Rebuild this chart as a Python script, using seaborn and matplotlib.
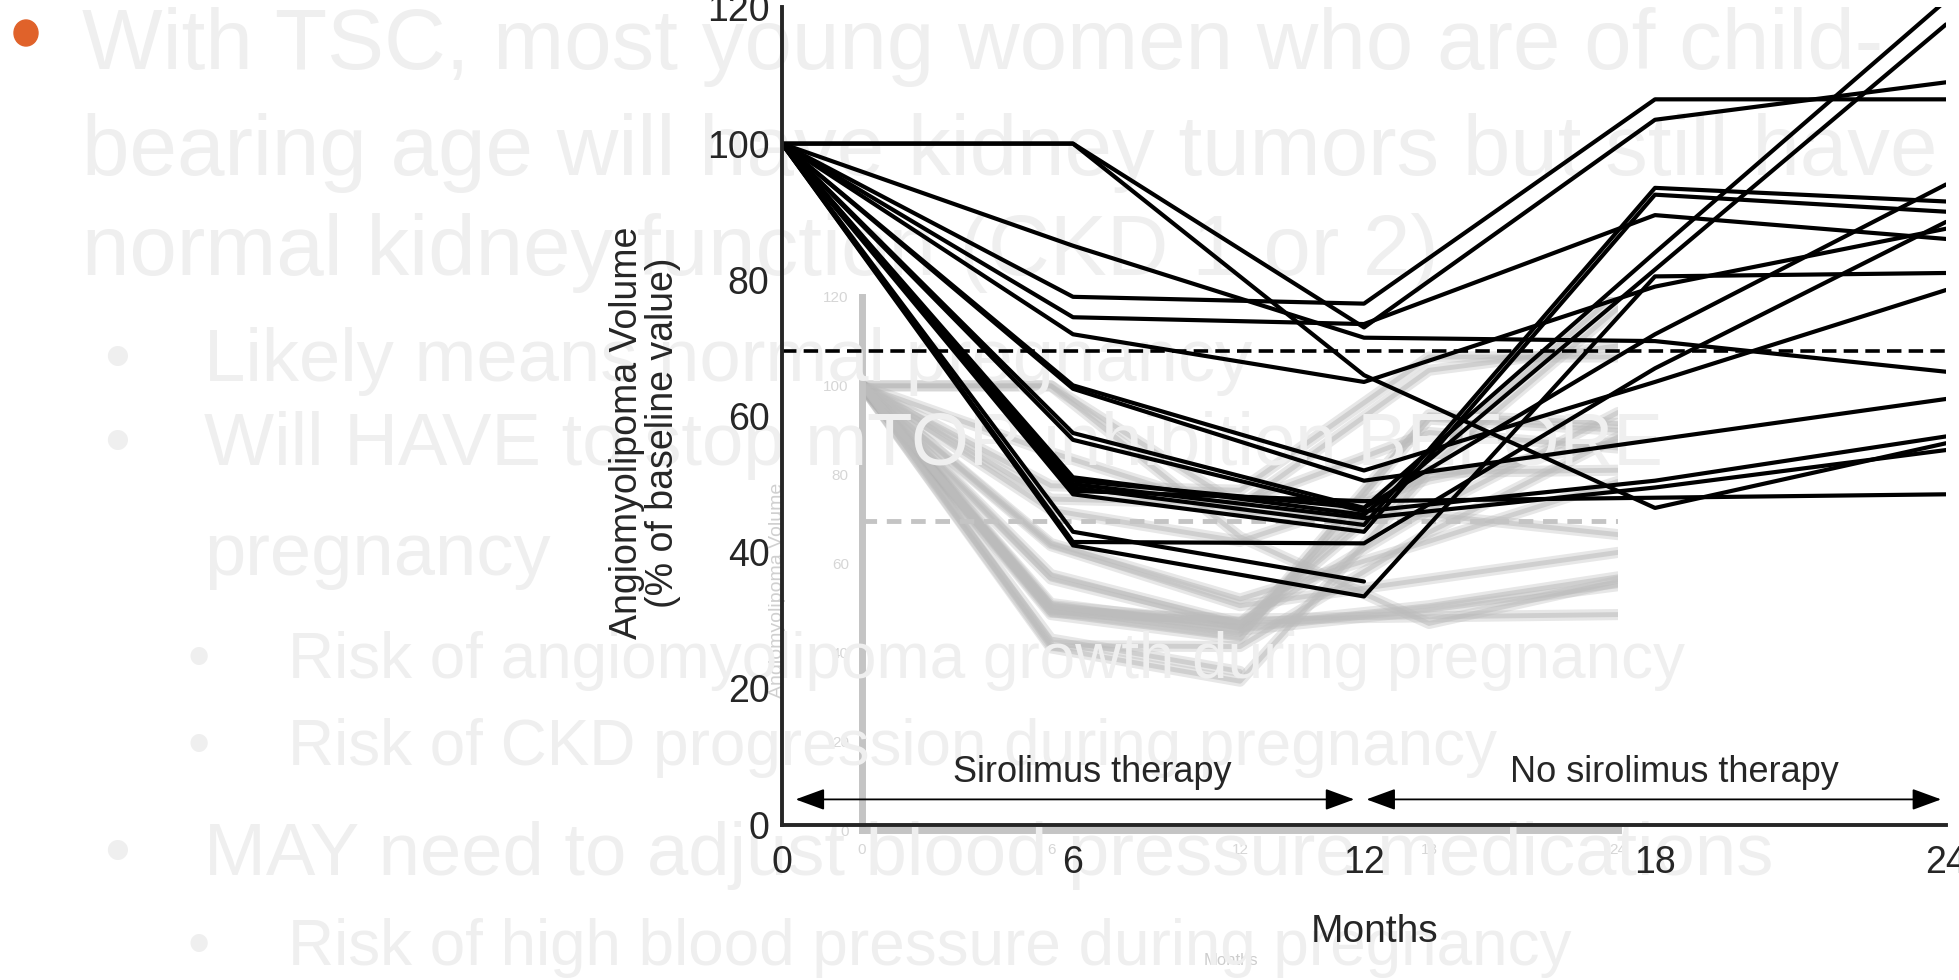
import numpy as np
import pandas as pd
import matplotlib.pyplot as plt
import seaborn as sns
from matplotlib.patches import Ellipse

# Angiomyolipoma volume (% of baseline) per patient at each visit
months = [0, 6, 12, 18, 24]
vol_m0 = [100, 100, 100, 100, 100, 100, 100, 100, 100, 100, 100, 100, 100, 100, 100, 100, 100, 100, 100]
vol_m6 = [100, 100, 77.5, 85, 74.5, 72, 64.5, 64, 41, 49, 56.5, 41.5, 43, 49.5, 48.5, 50.5, 51, 57.5, 50]
vol_m12 = [66, 73, 76.5, 71.5, 73.5, 65, 52, 50.5, 33.5, 47.5, 46, 41.3, 35.7, 44, 43, 46.5, 45.5, 46.5, 45]
vol_m18 = [46.5, 103.5, 106.5, 71, 89.5, 79, 65, 56.5, 80.5, 48, 50.5, 67, np.nan, 93.5, 92.5, 84, 81.5, 72, 49.5]
vol_m24 = [56, 109, 106.5, 66.5, 86, 87.5, 78.5, 62.5, 81, 48.5, 57, 88.5, np.nan, 91.5, 90, 121, 117.5, 94, 55]
dashed_ref = 69.5

y_ticks = [0, 20, 40, 60, 80, 100, 120]
phase_labels = ['Sirolimus therapy', 'No sirolimus therapy']

# slide text behind the chart
title_lines = ['With TSC, most young women who are of child-',
               'bearing age will have kidney tumors but still have',
               'normal kidney function (CKD 1 or 2)']
level1 = ['Likely means normal pregnancy', 'Will HAVE to stop mTOR inhibition BEFORE', 'pregnancy',
          'MAY need to adjust blood pressure medications']
level2 = ['Risk of angiomyolipoma growth during pregnancy', 'Risk of CKD progression during pregnancy',
          'Risk of high blood pressure during pregnancy']

# long format for seaborn
rows = []
cols = [vol_m0, vol_m6, vol_m12, vol_m18, vol_m24]
for pid in range(len(vol_m0)):
    for m, col in zip(months, cols):
        if not np.isnan(col[pid]):
            rows.append({'patient': pid, 'month': m, 'volume': col[pid]})
df = pd.DataFrame(rows)

sns.set_style('white')
plt.rcParams['font.family'] = ['Liberation Sans', 'DejaVu Sans']

W, H = 1959, 980
fig = plt.figure(figsize=(W / 100, H / 100), dpi=100)
fig.patch.set_facecolor('white')

def fx(px):
    return px / W

def fy(py):
    return 1 - py / H

# faded copy of the chart in the background
ax2 = fig.add_axes([fx(862), fy(830), fx(1618) - fx(862), fy(297) - fy(830)])
ax2.set_zorder(1)
ax2.patch.set_alpha(0)
sns.lineplot(data=df, x='month', y='volume', units='patient', estimator=None,
             color='#b0b0b0', linewidth=8, alpha=0.3, legend=False, ax=ax2)
sns.lineplot(data=df, x='month', y='volume', units='patient', estimator=None,
             color='#bcbcbc', linewidth=3.5, alpha=0.55, legend=False, ax=ax2)
ax2.axhline(dashed_ref, color='#c4c4c4', lw=3.5, ls=(0, (3, 2)))
ax2.set_xlim(0, 24)
ax2.set_ylim(0, 120)
ax2.set_xticks(months)
ax2.set_yticks(y_ticks)
sns.despine(ax=ax2)
for s in ['left', 'bottom']:
    ax2.spines[s].set_color('#c4c4c4')
    ax2.spines[s].set_linewidth(5)
ax2.tick_params(colors='#cccccc', labelcolor='#d6d6d6', labelsize=11, width=4, length=6)
ax2.set_xlabel('Months', color='#cccccc', fontsize=12)
ax2.xaxis.set_label_coords(0.488, -0.23)
ax2.set_ylabel('Angiomyolipoma Volume', color='#d0d0d0', fontsize=14)
ax2.yaxis.set_label_coords(-0.1, 0.45)

# slide text
txt = dict(color='#efefef', va='baseline', zorder=2)
for line, by in zip(title_lines, [69, 175, 275]):
    fig.text(fx(82), fy(by), line, fontsize=61.5, **txt)
for line, by, bullet in zip(level1, [381, 465, 575, 875], [True, True, False, True]):
    fig.text(fx(204), fy(by), line, fontsize=53.5, **txt)
    if bullet:
        fig.text(fx(117), fy(by), '\u2022', fontsize=53.5, ha='center', **txt)
for line, by in zip(level2, [678, 765, 965]):
    fig.text(fx(288), fy(by), line, fontsize=46, **txt)
    fig.text(fx(199), fy(by), '\u2022', fontsize=46, ha='center', **txt)
fig.add_artist(Ellipse((fx(26), fy(33)), 24 / W, 26 / H, transform=fig.transFigure,
                       color='#e0622a', zorder=2))

# main chart
ax = fig.add_axes([fx(782), fy(824.6), fx(1946) - fx(782), fy(7.4) - fy(824.6)])
ax.set_zorder(3)
ax.patch.set_alpha(0)
sns.lineplot(data=df, x='month', y='volume', units='patient', estimator=None,
             color='black', linewidth=3.0, legend=False, ax=ax)
ax.axhline(dashed_ref, color='black', lw=2.6, ls=(0, (4, 2)))
ax.set_xlim(0, 24)
ax.set_ylim(0, 120)
ax.set_xticks(months)
ax.set_yticks(y_ticks)
sns.despine(ax=ax)
for s in ['left', 'bottom']:
    ax.spines[s].set_linewidth(2.8)
ax.tick_params(axis='y', direction='out', length=7, width=2.8, labelsize=27, pad=2)
ax.tick_params(axis='x', direction='out', length=10, width=2.8, labelsize=27, pad=5)

ax.set_ylabel('Angiomyolipoma Volume\n(% of baseline value)', fontsize=27, linespacing=1.0)
ax.yaxis.set_label_coords(-0.087, 0.48)
ax.set_xlabel('Months', fontsize=28)
ax.xaxis.set_label_coords(0.509, -0.11)

# therapy phase arrows
arrow = dict(arrowstyle='<|-|>,head_length=0.6,head_width=0.22', color='black', lw=1.3,
             mutation_scale=30, shrinkA=0, shrinkB=0)
ax.annotate('', xy=(0.28, 3.7), xytext=(11.8, 3.7), arrowprops=arrow)
ax.annotate('', xy=(12.05, 3.7), xytext=(23.9, 3.7), arrowprops=arrow)
ax.text(6.4, 7.6, phase_labels[0], fontsize=26, ha='center', va='center')
ax.text(18.4, 7.6, phase_labels[1], fontsize=26, ha='center', va='center')

fig.savefig('out.png', dpi=100)
